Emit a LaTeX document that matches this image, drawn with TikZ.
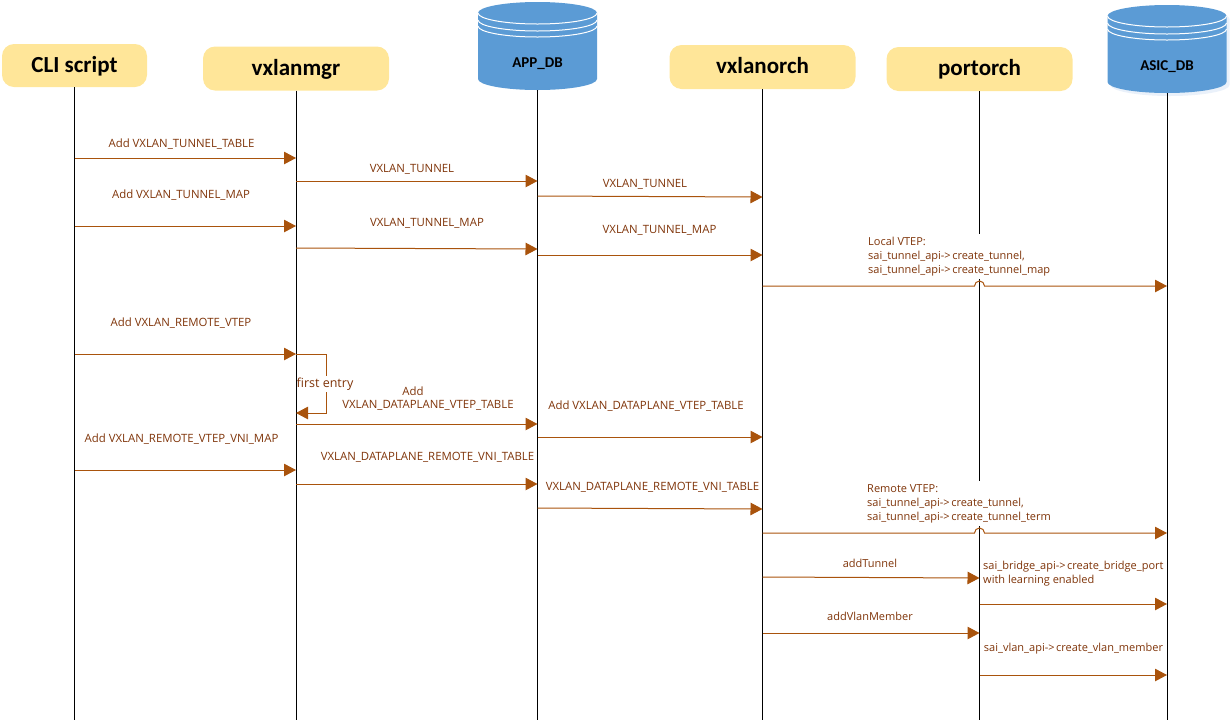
\documentclass[tikz,border=0pt]{standalone}
\usepackage{fontspec}
\setmainfont{Open Sans}
\newfontfamily\headfont{Carlito}
\usetikzlibrary{arrows.meta}
\definecolor{headfill}{HTML}{FFE699}
\definecolor{dbfill}{HTML}{5B9BD5}
\definecolor{dbglow}{HTML}{EAF1FA}
\definecolor{msgline}{HTML}{A9530C}
\definecolor{msgtext}{HTML}{7F3409}
\newcommand{\api}{->\hspace{1.5pt}}
\newcommand{\dbbody}[1]{([yshift=-11pt]#1.north west) arc (180:0:59.5pt and 11pt) -- ([yshift=11pt]#1.south east) arc (0:-180:59.5pt and 11pt) -- cycle}
\begin{document}
\begin{tikzpicture}[x=1pt,y=-1pt,
    actor/.style ={rectangle, rounded corners=12pt, fill=headfill, minimum width=186pt, minimum height=44pt,
                   inner sep=0pt, text height=15pt, text depth=2pt, font=\headfont\bfseries\fontsize{23}{26}\selectfont},
    dbase/.style ={rectangle, minimum width=119pt, minimum height=88pt, inner sep=0pt, outer sep=0pt},
    dbname/.style ={font=\headfont\bfseries\fontsize{15}{17}\selectfont},
    lifeline/.style ={black, line width=1pt},
    msg/.style ={msgline, line width=1pt, -{Triangle[length=12pt,width=12.5pt]}},
    txt/.style ={text=msgtext, inner sep=0pt, font=\fontsize{11.4}{14}\selectfont},
    lowtxt/.style ={txt, font=\fontsize{11}{14}\selectfont},
    note/.style ={lowtxt, fill=white, align=left, anchor=north west, inner ysep=3pt}]
   \useasboundingbox (0,0) rectangle (1232,721);

   % heads
   \node[actor, minimum width=145pt, minimum height=43pt] (cli) at (74.5,65.5) {CLI script};
   \node[actor] (mgr) at (296,68.5) {vxlanmgr};
   \node[actor] (orch) at (762.5,67) {vxlanorch};
   \node[actor] (port) at (979.5,69) {portorch};
   \node[dbase] (app) at (537.5,46) {};
   \node[dbase] (asic) at (1167,49) {};
   \fill[dbglow, transform canvas={xshift=3pt, yshift=-3pt}] \dbbody{asic};
   \foreach \db in {app,asic} {
     \fill[dbfill] \dbbody{\db};
     \foreach \dy in {33,26,20}
       \draw[white, line width=1pt] ([yshift=\dy pt]\db.center) ++(-59.5,0) arc (180:360:59.5pt and 11pt);
   }
   \node[dbname] (appname) at (537.5,64) {APP\_DB};
   \node[dbname] (asicname) at (1167,67) {ASIC\_DB};

   % lifelines
   \coordinate (cliend) at (74.5,720);
   \coordinate (mgrend) at (296,720);
   \coordinate (append) at (537.5,720);
   \coordinate (orchend) at (762.5,720);
   \coordinate (portend) at (979.5,720);
   \coordinate (asicend) at (1167,720);
   \draw[lifeline] (cli) -- (cliend);
   \draw[lifeline] (mgr) -- (mgrend);
   \draw[lifeline] (app) -- (append);
   \draw[lifeline] (orch) -- (orchend);
   \draw[lifeline] (port) -- (portend);
   \draw[lifeline] (asic) -- (asicend);

   % texts
   \node[txt] (t1) at (181.5,144) {Add VXLAN\_TUNNEL\_TABLE};
   \node[txt] (t2) at (412,169) {VXLAN\_TUNNEL};
   \node[txt] (t3) at (645,184) {VXLAN\_TUNNEL};
   \node[txt] (t4) at (181,195) {Add VXLAN\_TUNNEL\_MAP};
   \node[txt] (t5) at (427,223) {VXLAN\_TUNNEL\_MAP};
   \node[txt] (t6) at (659.5,230) {VXLAN\_TUNNEL\_MAP};
   \node[note] (t7) at (868,234) {Local VTEP:\\sai\_tunnel\_api\api create\_tunnel,\\sai\_tunnel\_api\api create\_tunnel\_map};
   \node[txt] (t8) at (181,323) {Add VXLAN\_REMOTE\_VTEP};
   \node[txt] (t10) at (413,391) {Add};
   \node[txt] (t10b) at (428,405) {VXLAN\_DATAPLANE\_VTEP\_TABLE};
   \node[txt] (t11) at (646,406) {Add VXLAN\_DATAPLANE\_VTEP\_TABLE};
   \node[txt] (t12) at (181.5,439) {Add VXLAN\_REMOTE\_VTEP\_VNI\_MAP};
   \node[txt] (t13) at (427.5,457) {VXLAN\_DATAPLANE\_REMOTE\_VNI\_TABLE};
   \node[txt] (t14) at (652.5,487) {VXLAN\_DATAPLANE\_REMOTE\_VNI\_TABLE};
   \node[note] (t15) at (867,481) {Remote VTEP:\\sai\_tunnel\_api\api create\_tunnel,\\sai\_tunnel\_api\api create\_tunnel\_term};
   \node[lowtxt] (t16) at (870,563) {addTunnel};
   \node[note, inner ysep=0pt] (t17) at (983,561) {sai\_bridge\_api\api create\_bridge\_port\\with learning enabled};
   \node[lowtxt] (t18) at (870,616) {addVlanMember};
   \node[lowtxt] (t19) at (1073.5,649) {sai\_vlan\_api\api create\_vlan\_member};

   % messages
   \coordinate (m1a) at (74.5,158);   \coordinate (m1b) at (296,158);
   \coordinate (m2a) at (296,181);    \coordinate (m2b) at (537.5,181);
   \coordinate (m3a) at (537.5,196);  \coordinate (m3b) at (762.5,197);
   \coordinate (m4a) at (74.5,226);   \coordinate (m4b) at (296,226);
   \coordinate (m5a) at (296,248);    \coordinate (m5b) at (537.5,249);
   \coordinate (m6a) at (537.5,255);  \coordinate (m6b) at (762.5,255);
   \coordinate (m7a) at (762.5,286);  \coordinate (m7j) at (974.5,286);  \coordinate (m7b) at (1167,286);
   \coordinate (m8a) at (74.5,354);   \coordinate (m8b) at (296,354);
   \coordinate (m9a) at (326,354);    \coordinate (m9b) at (326,413);    \coordinate (m9c) at (296,413);
   \coordinate (m10a) at (296,424);   \coordinate (m10b) at (537.5,424);
   \coordinate (m11a) at (537.5,437); \coordinate (m11b) at (762.5,437);
   \coordinate (m12a) at (74.5,470);  \coordinate (m12b) at (296,470);
   \coordinate (m13a) at (296,484);   \coordinate (m13b) at (537.5,484);
   \coordinate (m14a) at (537.5,508); \coordinate (m14b) at (762.5,509);
   \coordinate (m15a) at (762.5,533); \coordinate (m15j) at (974.5,533); \coordinate (m15b) at (1167,533);
   \coordinate (m16a) at (762.5,577); \coordinate (m16b) at (979.5,578);
   \coordinate (m17a) at (979.5,604); \coordinate (m17b) at (1167,604);
   \coordinate (m18a) at (762.5,633); \coordinate (m18b) at (979.5,633);
   \coordinate (m19a) at (979.5,675); \coordinate (m19b) at (1167,675);

   \draw[msg] (m1a) -- (m1b);
   \draw[msg] (m2a) -- (m2b);
   \draw[msg] (m3a) -- (m3b);
   \draw[msg] (m4a) -- (m4b);
   \draw[msg] (m5a) -- (m5b);
   \draw[msg] (m6a) -- (m6b);
   \draw[msg] (m7a) -- (m7j) arc (180:0:5pt) -- (m7b);
   \draw[msg] (m8a) -- (m8b);
   \draw[msg] (m8b) -- (m9a) -- (m9b) -- (m9c);
   \node[txt, fill=white, inner ysep=2pt, font=\fontsize{12.5}{14}\selectfont] (t9) at (325,384) {first entry};
   \draw[msg] (m10a) -- (m10b);
   \draw[msg] (m11a) -- (m11b);
   \draw[msg] (m12a) -- (m12b);
   \draw[msg] (m13a) -- (m13b);
   \draw[msg] (m14a) -- (m14b);
   \draw[msg] (m15a) -- (m15j) arc (180:0:5pt) -- (m15b);
   \draw[msg] (m16a) -- (m16b);
   \draw[msg] (m17a) -- (m17b);
   \draw[msg] (m18a) -- (m18b);
   \draw[msg] (m19a) -- (m19b);
\end{tikzpicture}
\end{document}
